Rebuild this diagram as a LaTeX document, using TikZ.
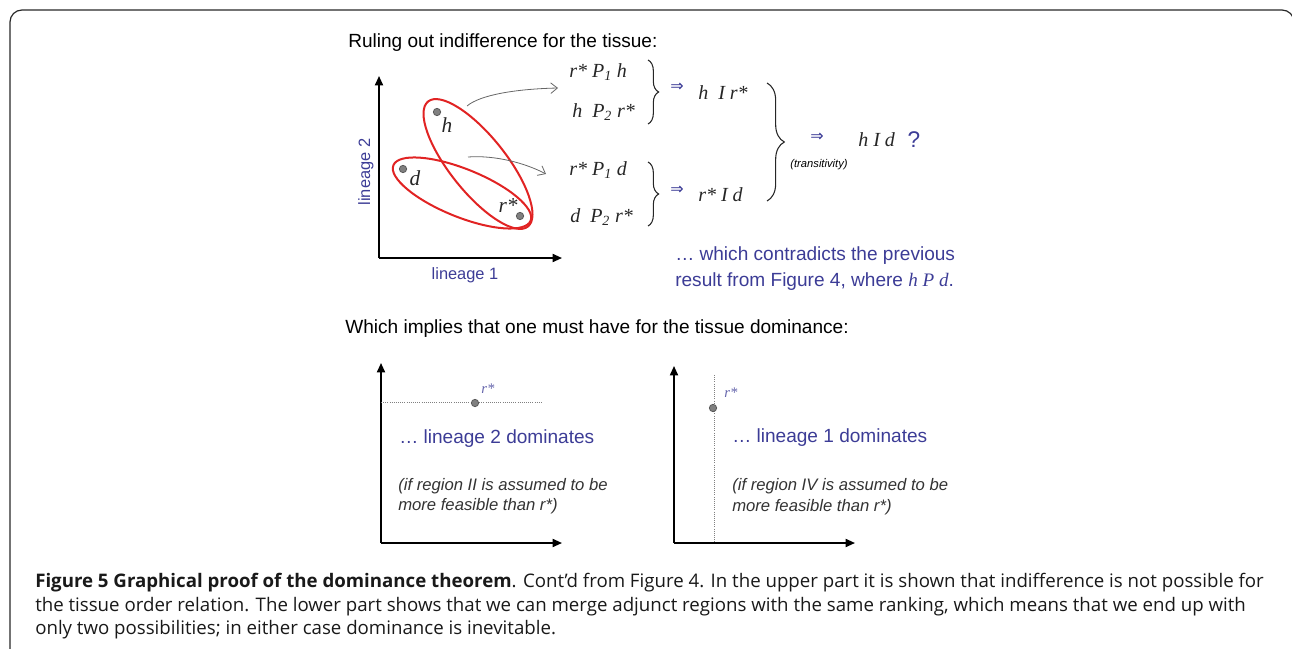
\documentclass[tikz,border=0pt]{standalone}
\usepackage{fontspec}
\setmainfont{Liberation Sans}
\newfontfamily\tms{Liberation Serif}
\newfontfamily\symf{DejaVu Sans}
\newfontfamily\capf{Open Sans}
\usetikzlibrary{arrows.meta,calc,decorations.pathreplacing}
\definecolor{lblue}{RGB}{60,60,150}
\definecolor{ered}{RGB}{225,35,35}
\definecolor{frm}{RGB}{40,40,40}
\newcommand{\sub}[1]{\textsubscript{#1}}

\begin{document}
\begin{tikzpicture}[x=0.75pt,y=-0.75pt,
  axis/.style={line width=1.3pt,-{Triangle[length=7pt,width=6pt]}},
  conn/.style={gray!80!black,line width=0.6pt,-{Straight Barb[length=5pt,width=8pt]}},
  pnt/.style={circle,fill=gray,draw=black!65,line width=0.6pt,inner sep=0pt,minimum size=5.5pt},
  ell/.style={ered,line width=1.5pt},
  mth/.style={font=\tms\itshape\fontsize{15}{18}\selectfont,anchor=west,inner sep=0pt,text=black!85},
  lbl/.style={font=\tms\itshape\fontsize{16}{18}\selectfont,inner sep=0pt,text=black!85},
  impl/.style={font=\symf\fontsize{12}{14}\selectfont,text=lblue,inner sep=0pt},
  brc/.style={decorate,decoration={brace,amplitude=#1},line width=0.8pt,black!85},
  txt/.style={font=\fontsize{14.3}{17}\selectfont,anchor=base west,inner sep=0pt},
  note/.style={font=\itshape\fontsize{12.5}{15}\selectfont,anchor=base west,inner sep=0pt,text=black!80},
  captxt/.style={font=\capf\fontsize{14}{16}\selectfont,anchor=base west,inner sep=0pt,text=black!90}]
  \useasboundingbox (0,0) rectangle (1292,649);

  % 枠
  \draw[frm,line width=0.9pt,rounded corners=9] (10,655) -- (10,10) -- (1294,10) -- (1294,40);

  % 上の図
  \node[txt] (title1) at (348,47.5) {Ruling out indifference for the tissue:};
  \coordinate (o0) at (379,258);
  \coordinate (ytop0) at (379,76);
  \coordinate (xend0) at (562,258);
  \draw[axis] (o0) -- (ytop0);
  \draw[axis] (o0) -- (xend0);
  \node[font=\fontsize{12.3}{14}\selectfont,text=lblue] (xlab) at (465,275) {lineage 1};
  \node[font=\fontsize{12.3}{14}\selectfont,text=lblue,rotate=90] (ylab) at (366,172) {lineage 2};

  % 楕円と点
  \draw[ell,shift={(478,164)},rotate=-51.4] (0,0) ellipse [x radius=80,y radius=28];
  \draw[ell,shift={(462,193)},rotate=-22] (0,0) ellipse [x radius=74,y radius=24];
  \node[pnt] (h) at (437,112) {};
  \node[pnt] (d) at (403,169) {};
  \node[pnt] (r) at (520,216) {};
  \node[lbl] (hl) at (447,125) {h};
  \node[lbl] (dl) at (415,178) {d};
  \node[lbl] (rl) at (508,206) {r*};

  % 矢印
  \coordinate (s1) at (467,106);
  \coordinate (e1) at (558,88);
  \coordinate (s2) at (468,157);
  \coordinate (e2) at (546,174);
  \draw[conn] (s1) .. controls (480,95) and (515,89) .. (e1);
  \draw[conn] (s2) .. controls (495,155) and (525,163) .. (e2);

  % 関係
  \node[mth] (m1) at (569,72) {r* P\sub{1} h};
  \node[mth] (m2) at (572,112) {h\ \ P\sub{2} r*};
  \node[mth] (m3) at (569,170) {r* P\sub{1} d};
  \node[mth] (m4) at (570,217) {d\ \ P\sub{2} r*};
  \coordinate (b1a) at (648,60);
  \coordinate (b1b) at (648,124);
  \coordinate (b2a) at (648,162);
  \coordinate (b2b) at (648,226);
  \draw[brc=8pt] (b1a) -- (b1b);
  \draw[brc=8pt] (b2a) -- (b2b);
  \node[impl] (i1) at (677,87) {⇒};
  \node[impl] (i2) at (677,190) {⇒};
  \node[mth] (n1) at (698,93) {h\ \ I r*};
  \node[mth] (n2) at (698,195) {r* I d};
  \coordinate (b3a) at (767,83);
  \coordinate (b3b) at (767,201);
  \draw[brc=13pt] (b3a) -- (b3b);
  \node[impl] (i3) at (817,137) {⇒};
  \node[font=\itshape\fontsize{8.4}{10}\selectfont,inner sep=0pt] (trans) at (819,165) {(transitivity)};
  \node[mth] (hid) at (858,140) {h I d};
  \node[font=\fontsize{17}{20}\selectfont,text=lblue,inner sep=0pt] (q) at (914,140) {?};

  \node[txt,text=lblue] (c1) at (675,260.5) {… which contradicts the previous};
  \node[txt,text=lblue] (c2) at (675,286.5) {result from Figure 4, where {\tms\itshape h P d}.};

  % 下の図
  \node[txt] (title2) at (345,333.3) {Which implies that one must have for the tissue dominance:};

  \coordinate (o1) at (381,543);
  \coordinate (ytop1) at (381,363);
  \coordinate (xend1) at (562,543);
  \draw[axis] (o1) -- (ytop1);
  \draw[axis] (o1) -- (xend1);
  \coordinate (dl1a) at (381,402);
  \coordinate (dl1b) at (542,402);
  \draw[gray,densely dotted,line width=0.6pt] (dl1a) -- (dl1b);
  \node[pnt] (r1) at (475,403) {};
  \node[font=\tms\itshape\fontsize{11}{13}\selectfont,text=lblue!80,inner sep=0pt] (r1l) at (488,389) {r*};
  \node[txt,text=lblue] (dom2) at (399,443.3) {… lineage 2 dominates};
  \node[note] (f2a) at (398,490.7) {(if region II is assumed to be};
  \node[note] (f2b) at (398,510.7) {more feasible than r*)};

  \coordinate (o2) at (674,543);
  \coordinate (ytop2) at (674,366);
  \coordinate (xend2) at (855,543);
  \draw[axis] (o2) -- (ytop2);
  \draw[axis] (o2) -- (xend2);
  \coordinate (dl2a) at (714,375);
  \coordinate (dl2b) at (714,543);
  \draw[gray,densely dotted,line width=0.6pt] (dl2a) -- (dl2b);
  \node[pnt] (r2) at (713,408) {};
  \node[font=\tms\itshape\fontsize{11}{13}\selectfont,text=lblue!80,inner sep=0pt] (r2l) at (731,393) {r*};
  \node[txt,text=lblue] (dom1) at (732,442.7) {… lineage 1 dominates};
  \node[note] (f1a) at (732,490.7) {(if region IV is assumed to be};
  \node[note] (f1b) at (732,511.7) {more feasible than r*)};

  % キャプション
  \node[captxt] (cap1) at (35,587.3) {\textbf{Figure 5 Graphical proof of the dominance theorem}. Cont’d from Figure 4. In the upper part it is shown that indifference is not possible for};
  \node[captxt] (cap2) at (35,611) {the tissue order relation. The lower part shows that we can merge adjunct regions with the same ranking, which means that we end up with};
  \node[captxt] (cap3) at (35,634.3) {only two possibilities; in either case dominance is inevitable.};
\end{tikzpicture}
\end{document}
